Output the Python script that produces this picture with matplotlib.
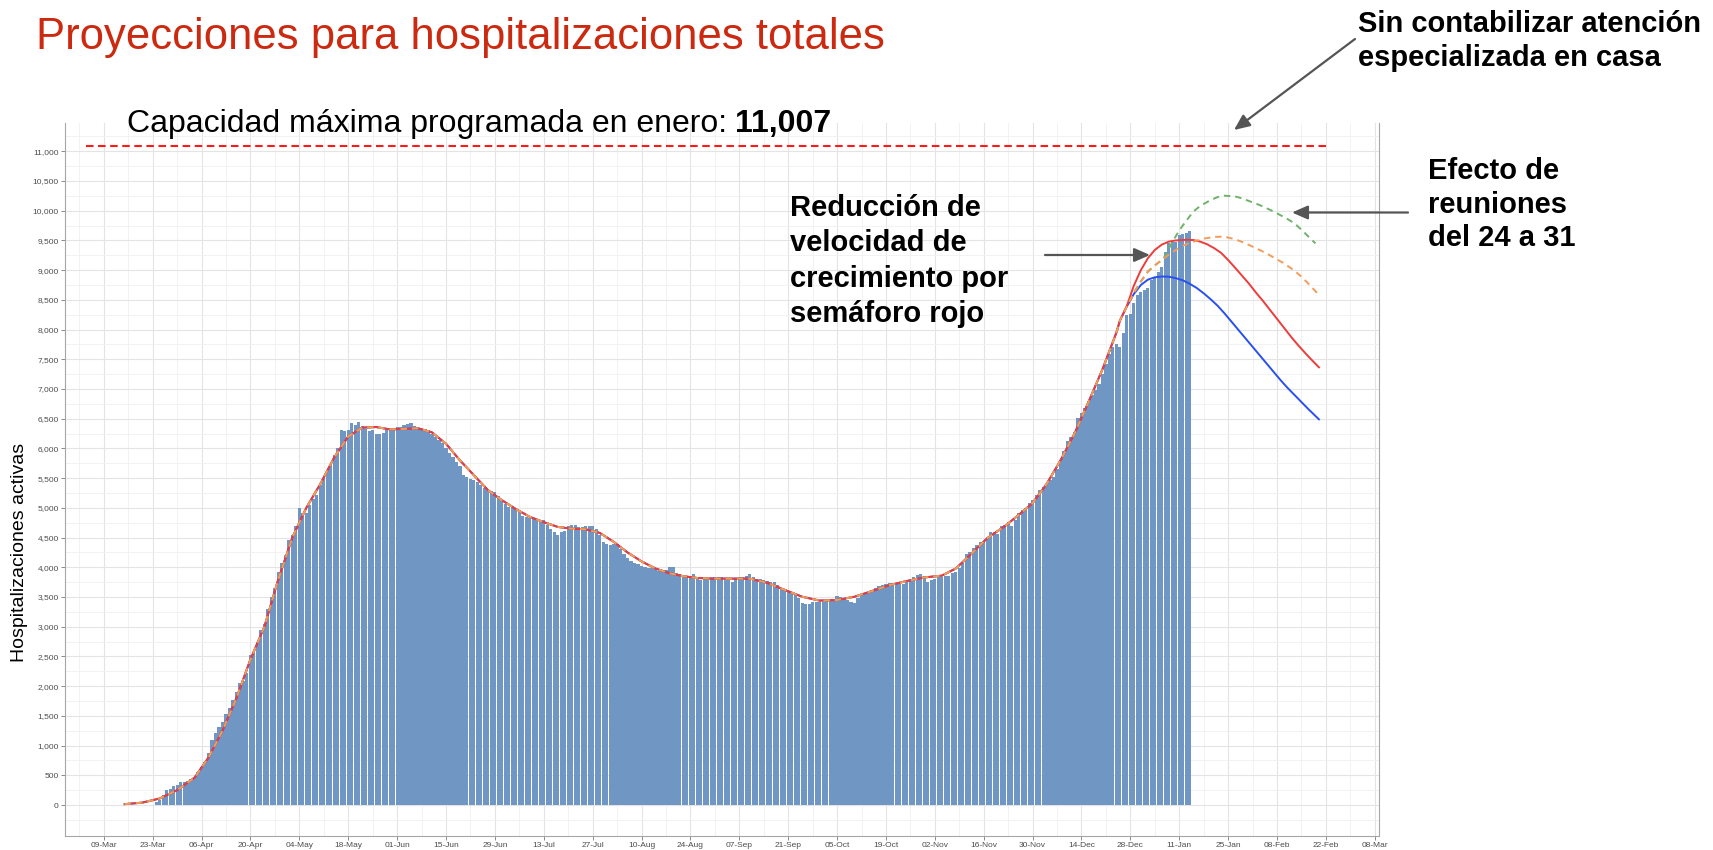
import matplotlib
matplotlib.use('Agg')
import matplotlib.dates as mdates
import matplotlib.pyplot as plt
import pandas as pd
from matplotlib.ticker import FixedLocator, FuncFormatter

plt.rcParams['font.family'] = ['Liberation Sans', 'DejaVu Sans']

W, H = 1713, 850

# hospitalizaciones activas por día, desde el 24-mar-2020
inicio_serie = '2020-03-24'
hospitalizaciones = [
    # mar
    50, 90, 170, 260, 265, 320, 330, 380,
    # abr
    390, 400, 440, 480, 560, 640, 730, 870, 1090, 1210, 1320, 1400, 1540, 1640, 1760,
    1900, 2050, 2080, 2220, 2520, 2560, 2750, 2950, 3050, 3300, 3500, 3650, 3920, 4070, 4210,
    # may
    4460, 4540, 4700, 5000, 4910, 4910, 5050, 5150, 5220, 5380, 5500, 5640, 5720, 5890, 6000,
    6310, 6290, 6310, 6420, 6400, 6440, 6370, 6330, 6290, 6310, 6250, 6240, 6260, 6310, 6320, 6320,
    # jun
    6360, 6360, 6390, 6410, 6430, 6370, 6350, 6330, 6320, 6310, 6250, 6200, 6150, 6100, 6000,
    5920, 5850, 5780, 5700, 5550, 5520, 5480, 5470, 5430, 5380, 5330, 5300, 5290, 5270, 5200,
    # jul
    5120, 5070, 5020, 5010, 4980, 4960, 4860, 4850, 4830, 4820, 4800, 4790, 4790, 4720, 4650,
    4600, 4550, 4600, 4610, 4700, 4710, 4720, 4680, 4680, 4690, 4700, 4700, 4650, 4550, 4420, 4400,
    # ago
    4380, 4390, 4390, 4300, 4220, 4150, 4100, 4080, 4050, 4020, 4000, 3990, 3980, 3970, 3940,
    3920, 3950, 4010, 4010, 3900, 3880, 3850, 3840, 3830, 3880, 3800, 3790, 3810, 3800, 3820, 3830,
    # sep
    3840, 3840, 3790, 3780, 3760, 3810, 3830, 3840, 3860, 3880, 3840, 3810, 3800, 3790, 3770,
    3760, 3750, 3700, 3650, 3620, 3590, 3560, 3530, 3480, 3400, 3380, 3390, 3420, 3420, 3420,
    # oct
    3420, 3430, 3430, 3450, 3510, 3500, 3480, 3450, 3420, 3400, 3480, 3530, 3560, 3590, 3620,
    3650, 3680, 3700, 3720, 3730, 3730, 3730, 3720, 3720, 3760, 3790, 3830, 3870, 3890, 3850, 3760,
    # nov
    3790, 3810, 3840, 3840, 3850, 3850, 3900, 3920, 3980, 4080, 4220, 4250, 4320, 4380, 4420,
    4450, 4500, 4600, 4590, 4560, 4690, 4720, 4770, 4700, 4800, 4910, 4960, 5000, 5080, 5140,
    # dic
    5220, 5300, 5350, 5410, 5470, 5520, 5650, 5800, 5950, 6120, 6200, 6280, 6510, 6600, 6680,
    6800, 6900, 6990, 7080, 7250, 7420, 7590, 7700, 7750, 7700, 7950, 8240, 8270, 8450, 8580, 8640,
    # ene
    8660, 8700, 8830, 8880, 8970, 9050, 9310, 9450, 9470, 9480, 9590, 9610, 9620, 9660,
]

# curva ajustada común a todos los escenarios
ajuste_fechas = [
    '2020-03-15', '2020-03-20', '2020-03-25', '2020-03-30', '2020-04-04', '2020-04-08',
    '2020-04-12', '2020-04-16', '2020-04-20', '2020-04-24', '2020-04-28', '2020-05-02',
    '2020-05-06', '2020-05-10', '2020-05-14', '2020-05-18', '2020-05-22', '2020-05-26',
    '2020-05-30', '2020-06-03', '2020-06-07', '2020-06-11', '2020-06-15', '2020-06-19',
    '2020-06-23', '2020-06-27', '2020-07-01', '2020-07-05', '2020-07-09', '2020-07-13',
    '2020-07-17', '2020-07-21', '2020-07-25', '2020-07-29', '2020-08-02', '2020-08-06',
    '2020-08-10', '2020-08-14', '2020-08-18', '2020-08-22', '2020-08-26', '2020-08-31',
    '2020-09-05', '2020-09-10', '2020-09-15', '2020-09-20', '2020-09-25', '2020-09-30',
    '2020-10-05', '2020-10-10', '2020-10-15', '2020-10-20', '2020-10-25', '2020-10-30',
    '2020-11-04', '2020-11-08', '2020-11-12', '2020-11-17', '2020-11-22', '2020-11-26',
    '2020-11-30', '2020-12-04', '2020-12-08', '2020-12-12', '2020-12-16', '2020-12-20',
    '2020-12-24',
]
ajuste = [
    15, 40, 110, 250, 460, 800,
    1250, 1800, 2450, 3000, 3800, 4500,
    5000, 5400, 5850, 6200, 6350, 6360,
    6320, 6330, 6340, 6270, 6080, 5800,
    5550, 5300, 5130, 4980, 4850, 4760,
    4680, 4650, 4640, 4580, 4430, 4250,
    4100, 3980, 3900, 3850, 3820, 3810,
    3810, 3810, 3740, 3620, 3505, 3440,
    3450, 3505, 3600, 3700, 3770, 3830,
    3860, 3980, 4200, 4490, 4690, 4880,
    5080, 5400, 5800, 6250, 6780, 7330,
    7950,
]

# proyecciones a partir del 25-dic
rojo_fechas = ['2020-12-25', '2020-12-27', '2020-12-29', '2020-12-31', '2021-01-02', '2021-01-04',
               '2021-01-06', '2021-01-08', '2021-01-10', '2021-01-13', '2021-01-15', '2021-01-17',
               '2021-01-19', '2021-01-21', '2021-01-23', '2021-01-25', '2021-01-27', '2021-01-29',
               '2021-01-31', '2021-02-02', '2021-02-04', '2021-02-06', '2021-02-08', '2021-02-10',
               '2021-02-12', '2021-02-14', '2021-02-16', '2021-02-18', '2021-02-20']
rojo = [8150, 8400, 8740, 9000, 9200, 9340,
        9430, 9480, 9500, 9510, 9507, 9480,
        9435, 9370, 9290, 9170, 9040, 8905,
        8770, 8620, 8480, 8330, 8180, 8030,
        7880, 7740, 7610, 7485, 7365]

azul_fechas = ['2020-12-25', '2020-12-27', '2020-12-29', '2020-12-31', '2021-01-02', '2021-01-04',
               '2021-01-06', '2021-01-08', '2021-01-10', '2021-01-12', '2021-01-14', '2021-01-16',
               '2021-01-18', '2021-01-20', '2021-01-22', '2021-01-24', '2021-01-26', '2021-01-28',
               '2021-01-30', '2021-02-01', '2021-02-03', '2021-02-05', '2021-02-07', '2021-02-09',
               '2021-02-11', '2021-02-13', '2021-02-15', '2021-02-17', '2021-02-20']
azul = [8150, 8390, 8600, 8750, 8840, 8880,
        8893, 8890, 8865, 8830, 8770, 8700,
        8610, 8510, 8400, 8270, 8130, 7990,
        7850, 7710, 7570, 7430, 7290, 7150,
        7020, 6900, 6780, 6660, 6490]

naranja_fechas = ['2020-12-25', '2020-12-27', '2020-12-29', '2020-12-31', '2021-01-02', '2021-01-04',
                  '2021-01-06', '2021-01-08', '2021-01-10', '2021-01-12', '2021-01-15', '2021-01-18',
                  '2021-01-21', '2021-01-24', '2021-01-27', '2021-01-29', '2021-01-31', '2021-02-03',
                  '2021-02-05', '2021-02-08', '2021-02-10', '2021-02-13', '2021-02-15', '2021-02-18',
                  '2021-02-20']
naranja = [8150, 8390, 8620, 8810, 8975, 9080,
           9171, 9260, 9339, 9410, 9479, 9530,
           9560, 9563, 9519, 9475, 9423, 9340,
           9283, 9180, 9115, 8990, 8890, 8710,
           8582]

verde_fechas = ['2020-12-25', '2020-12-27', '2020-12-29', '2020-12-31', '2021-01-02', '2021-01-04',
                '2021-01-06', '2021-01-07', '2021-01-08', '2021-01-09', '2021-01-11', '2021-01-13',
                '2021-01-15', '2021-01-17', '2021-01-20', '2021-01-22', '2021-01-24', '2021-01-27',
                '2021-01-29', '2021-02-01', '2021-02-03', '2021-02-06', '2021-02-08', '2021-02-11',
                '2021-02-13', '2021-02-15', '2021-02-17', '2021-02-19']
verde = [8150, 8390, 8620, 8810, 8975, 9080,
         9171, 9240, 9360, 9470, 9670, 9830,
         9984, 10080, 10180, 10230, 10253, 10240,
         10208, 10140, 10096, 10015, 9956, 9860,
         9788, 9680, 9563, 9451]

capacidad = 11007
nivel_linea_capacidad = 11090
capacidad_fechas = ['2020-03-04', '2021-02-22']

inicio_ejes = '2020-03-09'
fin_ejes = '2021-03-08'


def to_num(fechas):
    return mdates.date2num(pd.to_datetime(fechas))


def fig_xy(px, py):
    return px / W, 1 - py / H


fig = plt.figure(figsize=(W / 100, H / 100), dpi=100)
ax = fig.add_axes([65 / W, 1 - 836 / H, (1379 - 65) / W, (836 - 123) / H])

dias = to_num(pd.date_range(inicio_serie, periods=len(hospitalizaciones), freq='D'))
ax.bar(dias, hospitalizaciones, width=0.9, color='#7096c3', linewidth=0, zorder=2)

x_ajuste = list(to_num(ajuste_fechas))
escenarios = [
    (azul_fechas, azul, dict(color='#2a4ff0', lw=1.4)),
    (verde_fechas, verde, dict(color='#6fb36a', lw=1.4, dashes=(3.3, 2.5))),
    (rojo_fechas, rojo, dict(color='#ee3b3b', lw=1.4)),
    (naranja_fechas, naranja, dict(color='#f39c5a', lw=1.4, dashes=(3.3, 2.5))),
]
for fechas, valores, estilo in escenarios:
    ax.plot(x_ajuste + list(to_num(fechas)), ajuste + valores, zorder=3,
            solid_joinstyle='round', **estilo)

ax.plot(to_num(capacidad_fechas), [nivel_linea_capacidad] * 2, color='#ff1a1a', lw=1.5,
        dashes=(3.6, 2.2), zorder=3)

# ejes
origen = mdates.date2num(pd.Timestamp(inicio_ejes))
ax.set_xlim(origen - 11.1, origen + 365.2)
ax.set_ylim(-521, 11476)

mayores = to_num(pd.date_range(inicio_ejes, fin_ejes, freq='14D'))
menores = to_num(pd.date_range('2020-03-02', fin_ejes, freq='14D'))
ax.xaxis.set_major_locator(FixedLocator(mayores))
ax.xaxis.set_minor_locator(FixedLocator(menores))
ax.xaxis.set_major_formatter(mdates.DateFormatter('%d-%b'))
ax.yaxis.set_major_locator(FixedLocator(range(0, 11001, 500)))
ax.yaxis.set_minor_locator(FixedLocator(range(-250, 11500, 500)))
ax.yaxis.set_major_formatter(FuncFormatter(lambda v, p: f'{int(v):,}'))

ax.grid(which='major', color='#e4e4e4', lw=0.8, zorder=0)
ax.grid(which='minor', color='#f0f0f0', lw=0.6, zorder=0)
ax.set_axisbelow(True)
ax.tick_params(which='major', length=3, width=0.6, color='#777777', labelsize=6,
               labelcolor='#4d4d4d', pad=1.5)
ax.tick_params(which='minor', length=0)
ax.spines['top'].set_visible(False)
for lado in ('left', 'bottom', 'right'):
    ax.spines[lado].set_color('#a6a6a6')
    ax.spines[lado].set_linewidth(0.8)

# textos
fig.text(*fig_xy(36, 49), 'Proyecciones para hospitalizaciones totales', fontsize=31.4,
         color='#cc2a10', va='baseline', ha='left')
cap = fig.text(*fig_xy(127, 132), 'Capacidad máxima programada en enero:', fontsize=23,
               va='baseline', ha='left')
renderer = fig.canvas.get_renderer()
bb = cap.get_window_extent(renderer)
fig.text((bb.x1 + 8) / W, 1 - 132 / H, f'{capacidad:,}', fontsize=23, fontweight='bold',
         va='baseline', ha='left')
fig.text(*fig_xy(20, 552), 'Hospitalizaciones activas', fontsize=14, rotation=90,
         va='center', ha='center')

fig.text(*fig_xy(790, 194), 'Reducción de\nvelocidad de\ncrecimiento por\nsemáforo rojo',
         fontsize=21, fontweight='bold', va='top', ha='left', linespacing=1.34)
fig.text(*fig_xy(1428, 157), 'Efecto de\nreuniones\ndel 24 a 31',
         fontsize=21, fontweight='bold', va='top', ha='left', linespacing=1.26)
fig.text(*fig_xy(1358, 10), 'Sin contabilizar atención\nespecializada en casa',
         fontsize=21, fontweight='bold', va='top', ha='left', linespacing=1.27)

flecha = dict(arrowstyle='-|>,head_length=0.5,head_width=0.22', color='#555555', lw=1.6,
              mutation_scale=19, shrinkA=0, shrinkB=0)
ax.annotate('', xy=fig_xy(1150, 255), xytext=fig_xy(1045, 255),
            xycoords='figure fraction', textcoords='figure fraction', arrowprops=flecha)
ax.annotate('', xy=fig_xy(1292, 212.5), xytext=fig_xy(1408, 212.5),
            xycoords='figure fraction', textcoords='figure fraction', arrowprops=flecha)
ax.annotate('', xy=fig_xy(1234, 130), xytext=fig_xy(1355, 39),
            xycoords='figure fraction', textcoords='figure fraction', arrowprops=flecha,
            annotation_clip=False)

fig.savefig('out.png', dpi=100)
